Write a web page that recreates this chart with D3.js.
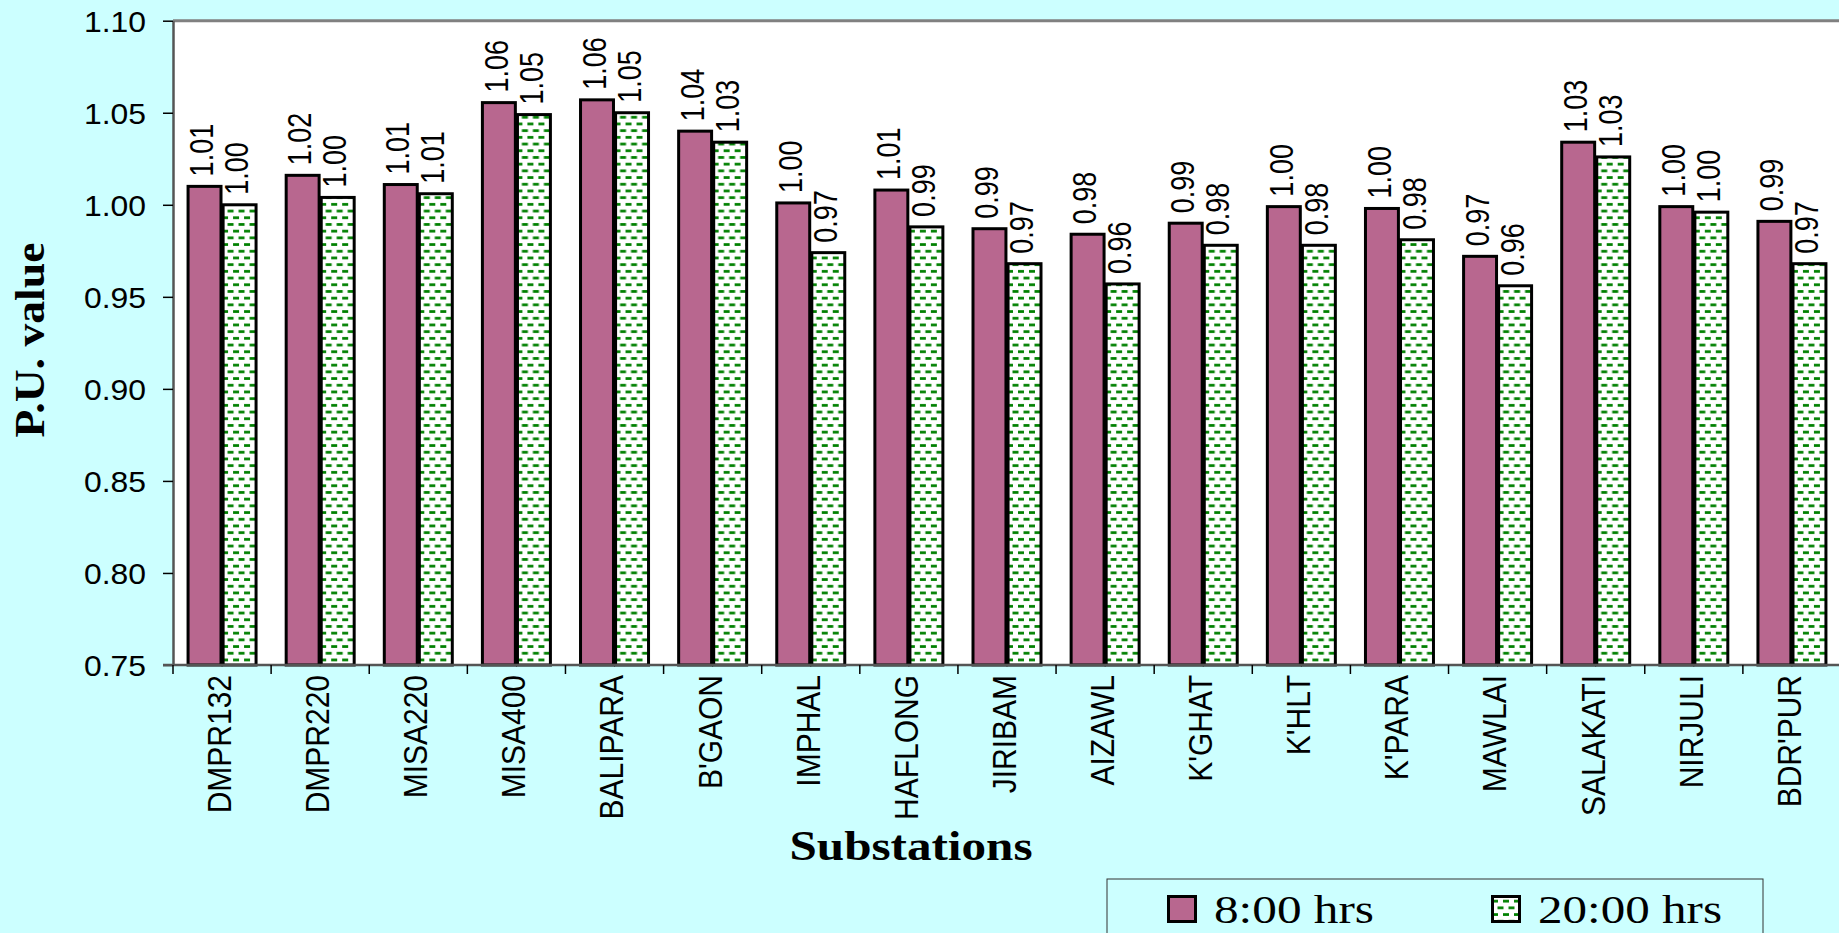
<!DOCTYPE html>
<html>
<head>
<meta charset="utf-8">
<script src="https://cdn.jsdelivr.net/npm/d3@7"></script>
<style>
  html, body { margin: 0; padding: 0; background: #ccffff; overflow: hidden; }
</style>
</head>
<body>
<div id="chart"></div>
<script>
// data
const categories = ["DMPR132", "DMPR220", "MISA220", "MISA400", "BALIPARA", "B'GAON", "IMPHAL",
    "HAFLONG", "JIRIBAM", "AIZAWL", "K'GHAT", "K'HLT", "K'PARA", "MAWLAI", "SALAKATI", "NIRJULI", "BDR'PUR"];
const series = ["8:00 hrs", "20:00 hrs"];
const morning = [1.010, 1.016, 1.011, 1.0555, 1.057, 1.040, 1.001, 1.008, 0.987, 0.984, 0.990, 0.999, 0.998, 0.972, 1.034, 0.999, 0.991];
const evening = [1.000, 1.004, 1.006, 1.049, 1.050, 1.034, 0.974, 0.988, 0.968, 0.957, 0.978, 0.978, 0.981, 0.956, 1.026, 0.996, 0.968];
const yTicks = [0.75, 0.80, 0.85, 0.90, 0.95, 1.00, 1.05, 1.10];

const W = 1839, H = 933;
const plot = {left: 173, top: 20.7, bottom: 665, right: 1841};
const sx = 1.1;   // glyphs in the picture are a little wide
const sans = "'Liberation Sans', Arial, sans-serif";
const serif = "'Liberation Serif', 'Times New Roman', serif";

const svg = d3.select("#chart").append("svg")
    .attr("width", W).attr("height", H);

const defs = svg.append("defs");
const pat = defs.append("pattern")
    .attr("id", "dash")
    .attr("patternUnits", "userSpaceOnUse")
    .attr("width", 11).attr("height", 13.4);
pat.append("rect").attr("width", 11).attr("height", 13.4).attr("fill", "#fff");
pat.append("rect").attr("x", 1).attr("y", 2).attr("width", 6).attr("height", 2.7).attr("fill", "#008000");
pat.append("rect").attr("x", 6.5).attr("y", 8.7).attr("width", 6).attr("height", 2.7).attr("fill", "#008000");
pat.append("rect").attr("x", -4.5).attr("y", 8.7).attr("width", 6).attr("height", 2.7).attr("fill", "#008000");

svg.append("rect").attr("width", W).attr("height", H).attr("fill", "#ccffff");

// scales
const x0 = d3.scaleBand().domain(categories).range([plot.left, plot.right]);
const pairW = 68;
const x1 = d3.scaleBand().domain(series).range([0, pairW]).paddingInner(0.06);
const y = d3.scaleLinear().domain([0.75, 1.10]).range([plot.bottom, plot.top]);
const fills = {"8:00 hrs": "#b8678f", "20:00 hrs": "url(#dash)"};

// plot area
svg.append("rect")
    .attr("x", plot.left).attr("y", plot.top)
    .attr("width", plot.right - plot.left).attr("height", plot.bottom - plot.top)
    .attr("fill", "#fff");
svg.append("line")
    .attr("x1", plot.left).attr("x2", W)
    .attr("y1", plot.top).attr("y2", plot.top)
    .attr("stroke", "#808080").attr("stroke-width", 3);

const rows = categories.map((c, i) => ({cat: c, vals: [morning[i], evening[i]]}));

const groups = svg.append("g").selectAll("g")
    .data(rows)
    .join("g")
    .attr("transform", d => `translate(${x0(d.cat) + (x0.bandwidth() - pairW) / 2},0)`);

groups.selectAll("rect")
    .data(d => series.map((s, k) => ({s, v: d.vals[k]})))
    .join("rect")
    .attr("x", d => x1(d.s))
    .attr("width", x1.bandwidth())
    .attr("y", d => y(d.v))
    .attr("height", d => y(0.75) - y(d.v))
    .attr("fill", d => fills[d.s])
    .attr("stroke", "#000")
    .attr("stroke-width", 3);

// value labels, rotated
groups.selectAll("text")
    .data(d => series.map((s, k) => ({s, v: d.vals[k]})))
    .join("text")
    .attr("transform", d => `translate(${x1(d.s) + x1.bandwidth() / 2 - 3},${y(d.v) - 10}) scale(1.2,1) rotate(-90)`)
    .attr("dy", "0.36em")
    .attr("font-family", sans)
    .attr("font-size", 27)
    .attr("fill", "#000")
    .text(d => d3.format(".2f")(d.v));

// y axis
const yAxis = svg.append("g")
    .attr("transform", `translate(${plot.left},0)`)
    .call(d3.axisLeft(y).tickValues(yTicks).tickFormat(d3.format(".2f")).tickSize(10).tickSizeOuter(0));
yAxis.select(".domain").attr("stroke", "#555").attr("stroke-width", 2.5);
yAxis.selectAll(".tick line").attr("stroke", "#000").attr("stroke-width", 1.5);
yAxis.selectAll(".tick text")
    .attr("x", null).attr("dy", null)
    .attr("text-anchor", "end")
    .attr("dominant-baseline", "central")
    .attr("transform", `translate(-27,0) scale(${sx},1)`)
    .attr("font-family", sans)
    .attr("font-size", 29)
    .attr("fill", "#000");

// x axis
svg.append("line")
    .attr("x1", plot.left - 10).attr("x2", W)
    .attr("y1", plot.bottom).attr("y2", plot.bottom)
    .attr("stroke", "#555").attr("stroke-width", 2.5);
svg.append("g").selectAll("line")
    .data(categories)
    .join("line")
    .attr("x1", d => x0(d)).attr("x2", d => x0(d))
    .attr("y1", plot.bottom).attr("y2", plot.bottom + 9)
    .attr("stroke", "#000").attr("stroke-width", 1.5);
svg.append("g").selectAll("text")
    .data(categories)
    .join("text")
    .attr("transform", d => `translate(${x0(d) + x0.bandwidth() / 2 - 3},${plot.bottom + 10}) scale(${sx},1) rotate(-90)`)
    .attr("dy", "0.36em")
    .attr("text-anchor", "end")
    .attr("font-family", sans)
    .attr("font-size", 30)
    .attr("fill", "#000")
    .text(d => d);

// axis titles
svg.append("text")
    .attr("transform", "translate(44,340) rotate(-90)")
    .attr("text-anchor", "middle")
    .attr("font-family", serif)
    .attr("font-weight", "bold")
    .attr("font-size", 42)
    .attr("textLength", 195)
    .attr("lengthAdjust", "spacingAndGlyphs")
    .text("P.U. value");
svg.append("text")
    .attr("x", 911).attr("y", 860)
    .attr("text-anchor", "middle")
    .attr("font-family", serif)
    .attr("font-weight", "bold")
    .attr("font-size", 42)
    .attr("textLength", 243)
    .attr("lengthAdjust", "spacingAndGlyphs")
    .text("Substations");

// legend
const leg = svg.append("g");
leg.append("rect")
    .attr("x", 1107).attr("y", 879)
    .attr("width", 656).attr("height", 80)
    .attr("fill", "#ccffff").attr("stroke", "#333").attr("stroke-width", 1);
const legX = [1167, 1491];
const legW = [160, 184];
const legItems = leg.selectAll("g")
    .data(series)
    .join("g")
    .attr("transform", (d, i) => `translate(${legX[i]},0)`);
legItems.append("rect")
    .attr("x", 1.5).attr("y", 896.5)
    .attr("width", 27).attr("height", 25)
    .attr("fill", d => fills[d])
    .attr("stroke", "#000").attr("stroke-width", 3);
legItems.append("text")
    .attr("x", 47).attr("y", 923)
    .attr("font-family", serif)
    .attr("font-size", 41)
    .attr("textLength", (d, i) => legW[i])
    .attr("lengthAdjust", "spacingAndGlyphs")
    .text(d => d);
</script>
</body>
</html>
